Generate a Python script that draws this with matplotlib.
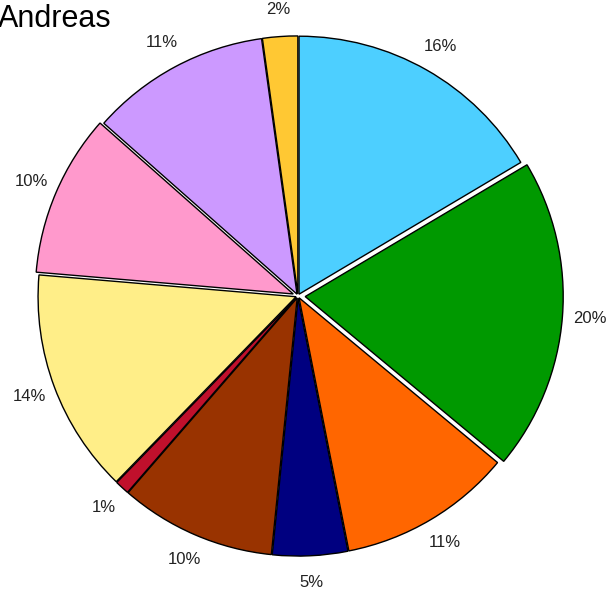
import matplotlib.pyplot as plt

labels = ['A', 'B', 'C', 'D', 'E', 'F', 'G', 'H', 'I', 'J']
values = [16.5, 19.6, 10.9, 4.7, 9.8, 0.9, 14.1, 10.2, 11.3, 2.2]
colors = ['#4dcfff', '#009900', '#ff6600', '#000080', '#993300',
          '#c0102c', '#ffee88', '#ff99cc', '#cc99ff', '#ffc833']
explode = [0.008, 0.028, 0.008, 0.008, 0.008, 0.008, 0.008, 0.02, 0.008, 0.008]

plt.rcParams['font.family'] = ['Liberation Sans', 'DejaVu Sans']

fig = plt.figure(figsize=(6.06, 5.92), dpi=100)
R = 258.0
lim = 1.3
ax = fig.add_axes([(298 - lim * R) / 606, (592 - 296 - lim * R) / 592,
                   2 * lim * R / 606, 2 * lim * R / 592])

wedges, texts, autotexts = ax.pie(values, colors=colors, explode=explode,
                                  startangle=90, counterclock=False,
                                  autopct='%1.0f%%', pctdistance=1.105,
                                  wedgeprops=dict(edgecolor='black', linewidth=1.0))
for t in autotexts:
    t.set_fontsize(12)
    t.set_color('#222222')
ax.set_xlim(-lim, lim)
ax.set_ylim(-lim, lim)
ax.set_aspect('equal')

fig.text(-0.004, 0.955, 'Andreas', fontsize=22, ha='left', va='baseline')

fig.savefig('out.png', dpi=100)
